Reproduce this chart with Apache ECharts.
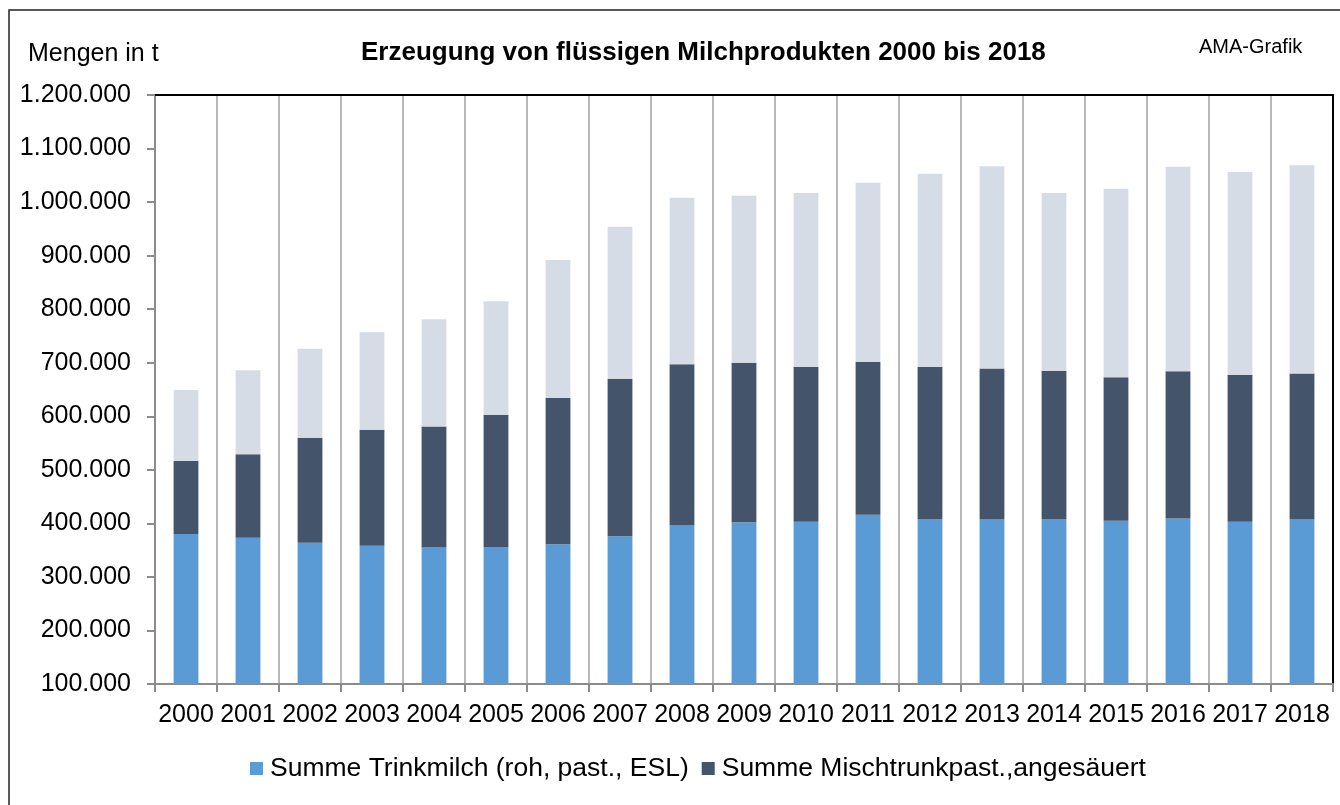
<!DOCTYPE html>
<html>
<head>
  <meta charset="UTF-8">
  <title>Erzeugung von flüssigen Milchprodukten</title>
  <script src="https://cdn.jsdelivr.net/npm/echarts@6/dist/echarts.min.js"></script>
  <style>
    body { margin: 0; background: #fff; }
    #chart { width: 1340px; height: 805px; }
  </style>
</head>
<body>
  <div id="chart"></div>
  <script>
    // Jahre
    const years = ['2000', '2001', '2002', '2003', '2004', '2005', '2006', '2007', '2008', '2009',
      '2010', '2011', '2012', '2013', '2014', '2015', '2016', '2017', '2018'];
    // Summe Trinkmilch (roh, past., ESL)
    const trinkmilch = [380000, 373000, 364000, 358000, 355000, 356000, 361000, 376000, 397000, 402000,
      403000, 416000, 408000, 407000, 408000, 405000, 409000, 403000, 407000];
    // Summe Mischtrunkpast., angesäuert
    const mischtrunk = [137000, 156000, 196000, 217000, 226000, 247000, 273000, 294000, 300000, 298000,
      289000, 286000, 284000, 282000, 277000, 268000, 275000, 274000, 273000];
    // restliche Mengen (ohne Legende)
    const sonstige = [132000, 157000, 166000, 182000, 200000, 212000, 258000, 284000, 311000, 312000,
      325000, 334000, 361000, 378000, 332000, 352000, 382000, 379000, 389000];

    const fmt = v => String(v).replace(/\B(?=(\d{3})+(?!\d))/g, '.');
    const font = 'Liberation Sans, Arial, sans-serif';

    const chart = echarts.init(document.getElementById('chart'));
    chart.setOption({
      animation: false,
      textStyle: { fontFamily: font, color: '#000' },
      title: [
        { text: 'Erzeugung von flüssigen Milchprodukten 2000 bis 2018', left: 356, top: 35,
          textStyle: { fontSize: 26, fontWeight: 'bold', color: '#000', fontFamily: font } },
        { text: 'Mengen in t', left: 23, top: 37,
          textStyle: { fontSize: 25, fontWeight: 'normal', color: '#000', fontFamily: font } },
        { text: 'AMA-Grafik', left: 1194, top: 32,
          textStyle: { fontSize: 20, fontWeight: 'normal', color: '#000', fontFamily: font } }
      ],
      legend: {
        data: ['Summe Trinkmilch (roh, past., ESL)', 'Summe Mischtrunkpast.,angesäuert'],
        left: 245, top: 750,
        icon: 'rect', itemWidth: 13, itemHeight: 13, itemGap: 13,
        textStyle: { fontSize: 26.5, color: '#000', fontFamily: font, padding: [0, 0, 0, 2] }
      },
      graphic: [{
        type: 'rect', shape: { x: 9, y: 10, width: 1400, height: 900 },
        style: { fill: 'none', stroke: '#222', lineWidth: 1.5 }, silent: true
      }],
      grid: { left: 155, right: 7, top: 95, bottom: 121 },
      xAxis: [{
        type: 'category', data: years,
        axisLine: { lineStyle: { color: '#8c8c8c', width: 2 } },
        axisTick: { show: true, length: 8, lineStyle: { color: '#8c8c8c', width: 2 } },
        splitLine: { show: true, lineStyle: { color: '#a0a0a0', width: 1.5 } },
        axisLabel: { fontSize: 25, color: '#000', margin: 19, interval: 0 }
      }, {
        type: 'category', data: years, position: 'top',
        axisLine: { lineStyle: { color: '#000', width: 2 } },
        axisTick: { show: false }, axisLabel: { show: false }
      }],
      yAxis: [{
        type: 'value', min: 100000, max: 1200000, interval: 100000,
        axisLine: { show: true, lineStyle: { color: '#8c8c8c', width: 2 } },
        axisTick: { show: true, length: 8, lineStyle: { color: '#8c8c8c', width: 2 } },
        splitLine: { show: false },
        axisLabel: { fontSize: 25, color: '#000', margin: 24, formatter: fmt }
      }, {
        type: 'value', min: 100000, max: 1200000, interval: 100000, position: 'right',
        axisLine: { show: true, lineStyle: { color: '#000', width: 2 } },
        axisTick: { show: false }, axisLabel: { show: false }, splitLine: { show: false }
      }],
      series: [
        { name: 'Summe Trinkmilch (roh, past., ESL)', type: 'bar', stack: 'm', data: trinkmilch,
          barWidth: '40%', itemStyle: { color: '#5B9BD5' } },
        { name: 'Summe Mischtrunkpast.,angesäuert', type: 'bar', stack: 'm', data: mischtrunk,
          itemStyle: { color: '#44546A' } },
        { name: 'Sonstige', type: 'bar', stack: 'm', data: sonstige,
          itemStyle: { color: '#D6DCE5' } }
      ]
    });
  </script>
</body>
</html>
